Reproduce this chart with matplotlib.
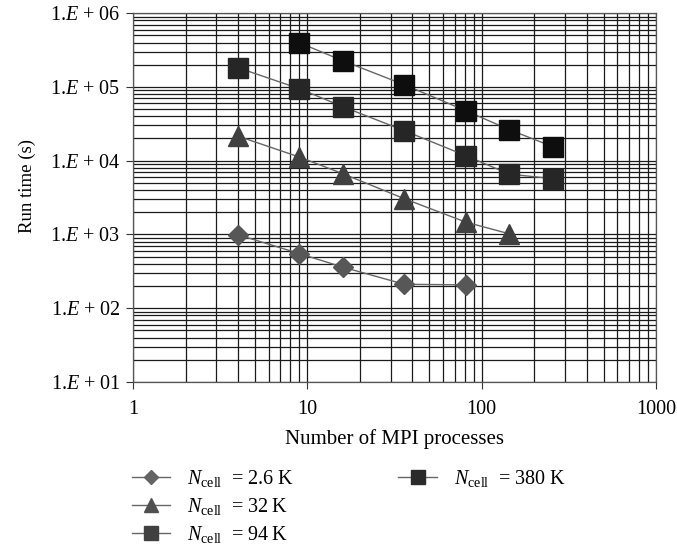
import numpy as np
import matplotlib
matplotlib.use('Agg')
import matplotlib.pyplot as plt
from matplotlib.ticker import LogLocator, NullFormatter
from matplotlib.lines import Line2D

plt.rcParams['font.family'] = ['Liberation Serif', 'DejaVu Serif']
plt.rcParams['mathtext.fontset'] = 'custom'
plt.rcParams['mathtext.rm'] = 'Liberation Serif'
plt.rcParams['mathtext.it'] = 'Liberation Serif:italic'

# number of MPI processes per case
procs_2k6 = [4, 9, 16, 36, 81]
procs_32k = [4, 9, 16, 36, 81, 144]
procs_94k = [4, 9, 16, 36, 81, 144, 256]
procs_380k = [9, 16, 36, 81, 144, 256]

# run times (s)
time_2k6 = [990, 550, 360, 211, 207]
time_32k = [21500, 11200, 6650, 3050, 1470, 1020]
time_94k = [182000, 94600, 53900, 25500, 11700, 6580, 5700]
time_380k = [397000, 226000, 107000, 47600, 26300, 15500]

labels = ['2.6', '32', '94', '380']
y_ticks = [1e1, 1e2, 1e3, 1e4, 1e5, 1e6]
y_ticklabels = ['1.$E$ + 01', '1.$E$ + 02', '1.$E$ + 03',
                '1.$E$ + 04', '1.$E$ + 05', '1.$E$ + 06']
x_ticks = [1, 10, 100, 1000]
x_ticklabels = ['1', '10', '100', '1000']

fig = plt.figure(figsize=(6.77, 5.48), dpi=100)
ax = fig.add_axes([0.1965, 0.303, 0.7725, 0.673])

# (x, y, marker, size, colour in plot, colour in legend)
series = [
    (procs_2k6, time_2k6, 'D', 10, '#575757', '#646464'),
    (procs_32k, time_32k, '^', 14, '#404040', '#505050'),
    (procs_94k, time_94k, 's', 15, '#262626', '#404040'),
    (procs_380k, time_380k, 's', 15, '#0e0e0e', '#2a2a2a'),
]

handles = []
for (px, ty, mk, ms, col, lcol), lab in zip(series, labels):
    ax.plot(px, ty, color='#666666', lw=1.0, zorder=3)
    ax.plot(px, ty, ls='none', marker=mk, ms=ms, color=col, mec=col, zorder=4)
    h = Line2D([], [], color='#666666', lw=1.0, marker=mk, ms=ms * 0.7,
               mfc=lcol, mec=lcol,
               label=r'$N_{\mathrm{cell}}$  = ' + lab + '\u2009K')
    handles.append(h)

ax.set_xscale('log')
ax.set_yscale('log')
ax.set_xlim(1, 1000)
ax.set_ylim(1e1, 1e6)

ax.set_xticks(x_ticks)
ax.set_xticklabels(x_ticklabels)
ax.set_yticks(y_ticks)
ax.set_yticklabels(y_ticklabels)
ax.xaxis.set_minor_locator(LogLocator(base=10, subs=np.arange(2, 10)))
ax.yaxis.set_minor_locator(LogLocator(base=10, subs=np.arange(2, 10)))
ax.xaxis.set_minor_formatter(NullFormatter())
ax.yaxis.set_minor_formatter(NullFormatter())

ax.grid(True, which='both', color='#1a1a1a', lw=0.9)
ax.set_axisbelow(True)
ax.tick_params(which='major', length=5, width=0.8, color='#333333',
               labelsize=14.5)
ax.tick_params(axis='x', which='major', pad=8)
ax.tick_params(axis='y', which='major', pad=4)
ax.tick_params(which='minor', length=0)
for s in ax.spines.values():
    s.set_color('#555555')
    s.set_linewidth(0.9)

ax.set_xlabel('Number of MPI processes', fontsize=15, labelpad=7)
ax.set_ylabel('Run time (s)', fontsize=13.5)
ax.yaxis.set_label_coords(-0.185, 0.531)

blank = Line2D([], [], ls='none', label=' ')
leg_handles = handles[:3] + [handles[3], blank, blank]
fig.legend(handles=leg_handles, labels=[h.get_label() for h in leg_handles],
           loc='upper left', bbox_to_anchor=(0.195, 0.146), ncol=2,
           frameon=False, fontsize=14.5, handlelength=1.9, handletextpad=0.85,
           columnspacing=5.2, labelspacing=0.36, borderpad=0, borderaxespad=0)

fig.savefig('out.png', dpi=100)
